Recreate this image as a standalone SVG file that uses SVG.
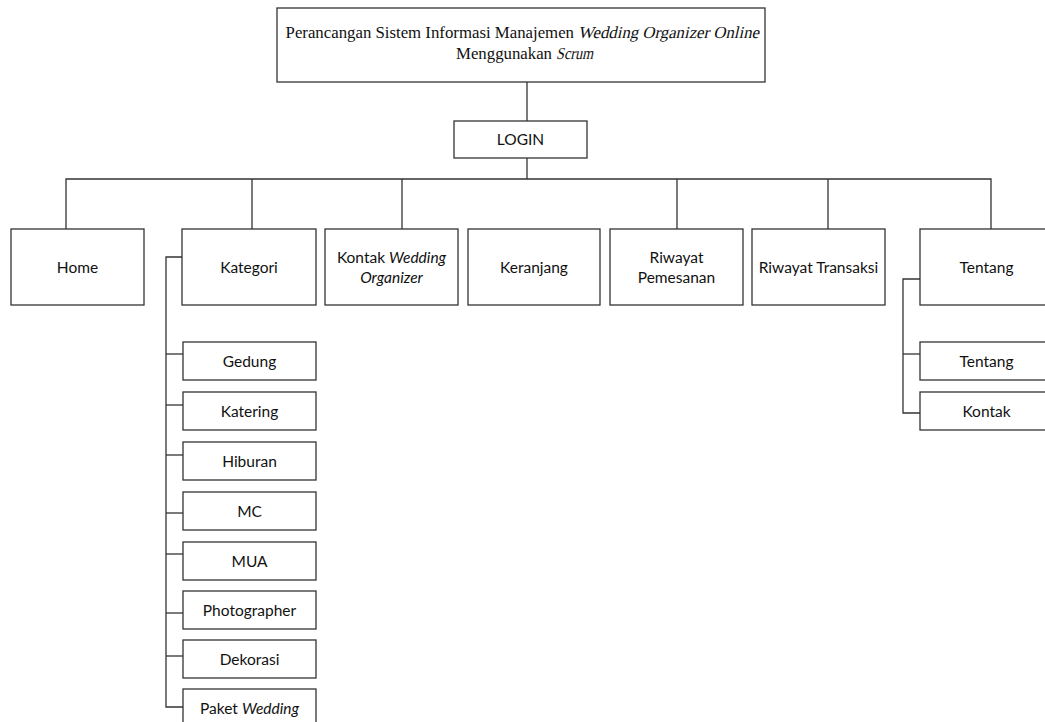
<svg xmlns="http://www.w3.org/2000/svg" width="1045" height="722" viewBox="0 0 1045 722">
  <style>
    .box { fill: #ffffff; stroke: #333333; stroke-width: 1.3; }
    .wire { fill: none; stroke: #333333; stroke-width: 1.3; }
    .lbl { font-family: Lato, "Open Sans", "Liberation Sans", sans-serif; font-size: 15.5px; fill: #111111; text-anchor: middle; }
    .ttl { font-family: "Liberation Serif", "DejaVu Serif", serif; font-size: 16.8px; fill: #111111; }
    .it { font-style: italic; }
  </style>
  <rect width="1045" height="722" fill="#ffffff"/>

  <!-- connectors -->
  <g id="connectors">
    <path class="wire" d="M527 82 V121"/>
    <path class="wire" d="M527 158 V179"/>
    <path class="wire" d="M66 229 V179 H991 V229"/>
    <path class="wire" d="M252 179 V229"/>
    <path class="wire" d="M402 179 V229"/>
    <path class="wire" d="M677 179 V229"/>
    <path class="wire" d="M828 179 V229"/>
    <!-- Kategori sub-menu -->
    <path class="wire" d="M182 257 H166 V707 H183"/>
    <path class="wire" d="M166 354 H183"/>
    <path class="wire" d="M166 405 H183"/>
    <path class="wire" d="M166 455 H183"/>
    <path class="wire" d="M166 513 H183"/>
    <path class="wire" d="M166 554 H183"/>
    <path class="wire" d="M166 613 H183"/>
    <path class="wire" d="M166 656 H183"/>
    <!-- Tentang sub-menu -->
    <path class="wire" d="M920 279 H903 V413 H920"/>
    <path class="wire" d="M903 354 H920"/>
  </g>

  <!-- title; the slanted words are regular serif glyphs sheared into an italic -->
  <g id="title">
    <rect class="box" x="277" y="8" width="488" height="74"/>
    <text class="ttl" x="574" y="38" text-anchor="end">Perancangan Sistem Informasi Manajemen</text>
    <text class="ttl" transform="translate(578,38) skewX(-13)" x="0" y="0" textLength="181" lengthAdjust="spacingAndGlyphs">Wedding Organizer Online</text>
    <text class="ttl" x="552" y="59" text-anchor="end">Menggunakan</text>
    <text class="ttl" transform="translate(556,59) skewX(-13)" x="0" y="0" textLength="37" lengthAdjust="spacingAndGlyphs">Scrum</text>
  </g>

  <g id="login">
    <rect class="box" x="454" y="121" width="133" height="37"/>
    <text class="lbl" x="520.5" y="145">LOGIN</text>
  </g>

  <g id="home">
    <rect class="box" x="11" y="229" width="133" height="76"/>
    <text class="lbl" x="77.5" y="273">Home</text>
  </g>
  <g id="kategori">
    <rect class="box" x="182" y="229" width="134" height="76"/>
    <text class="lbl" x="249" y="273">Kategori</text>
  </g>
  <g id="kontak-wo">
    <rect class="box" x="325" y="229" width="133" height="76"/>
    <text class="lbl" x="391.5" y="263">Kontak <tspan class="it">Wedding</tspan></text>
    <text class="lbl it" x="391.5" y="283">Organizer</text>
  </g>
  <g id="keranjang">
    <rect class="box" x="468" y="229" width="132" height="76"/>
    <text class="lbl" x="534" y="273">Keranjang</text>
  </g>
  <g id="riwayat-pemesanan">
    <rect class="box" x="610" y="229" width="133" height="76"/>
    <text class="lbl" x="676.5" y="263">Riwayat</text>
    <text class="lbl" x="676.5" y="283">Pemesanan</text>
  </g>
  <g id="riwayat-transaksi">
    <rect class="box" x="752" y="229" width="133" height="76"/>
    <text class="lbl" x="818.5" y="273">Riwayat Transaksi</text>
  </g>
  <g id="tentang">
    <rect class="box" x="920" y="229" width="133" height="76"/>
    <text class="lbl" x="986.5" y="273">Tentang</text>
  </g>

  <g id="gedung">
    <rect class="box" x="183" y="342" width="133" height="38"/>
    <text class="lbl" x="249.5" y="367">Gedung</text>
  </g>
  <g id="katering">
    <rect class="box" x="183" y="392" width="133" height="38"/>
    <text class="lbl" x="249.5" y="417">Katering</text>
  </g>
  <g id="hiburan">
    <rect class="box" x="183" y="442" width="133" height="38"/>
    <text class="lbl" x="249.5" y="467">Hiburan</text>
  </g>
  <g id="mc">
    <rect class="box" x="183" y="492" width="133" height="38"/>
    <text class="lbl" x="249.5" y="517">MC</text>
  </g>
  <g id="mua">
    <rect class="box" x="183" y="542" width="133" height="38"/>
    <text class="lbl" x="249.5" y="567">MUA</text>
  </g>
  <g id="photographer">
    <rect class="box" x="183" y="591" width="133" height="38"/>
    <text class="lbl" x="249.5" y="616">Photographer</text>
  </g>
  <g id="dekorasi">
    <rect class="box" x="183" y="640" width="133" height="38"/>
    <text class="lbl" x="249.5" y="665">Dekorasi</text>
  </g>
  <g id="paket-wedding">
    <rect class="box" x="183" y="689" width="133" height="38"/>
    <text class="lbl" x="249.5" y="714">Paket <tspan class="it">Wedding</tspan></text>
  </g>

  <g id="tentang-sub">
    <rect class="box" x="920" y="342" width="133" height="38"/>
    <text class="lbl" x="986.5" y="367">Tentang</text>
  </g>
  <g id="kontak">
    <rect class="box" x="920" y="392" width="133" height="38"/>
    <text class="lbl" x="986.5" y="417">Kontak</text>
  </g>
</svg>
